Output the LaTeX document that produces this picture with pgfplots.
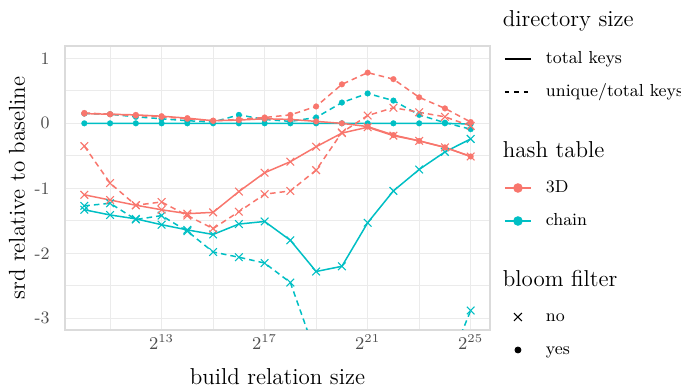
\documentclass[border=0pt]{standalone}
\usepackage{pgfplots}
\pgfplotsset{compat=1.18}
\definecolor{cr}{HTML}{F8766D}
\definecolor{cc}{HTML}{00BFC4}
\definecolor{bordergray}{RGB}{219,219,219}
\definecolor{gridgray}{RGB}{235,235,235}
\definecolor{ticktext}{RGB}{77,77,77}
\newcommand{\tfont}{\fontsize{11.5}{13}\selectfont}
\newcommand{\sfont}{\fontsize{8.7}{10}\selectfont}
\newcommand{\ent}[1]{\raisebox{-2.2pt}{\sfont #1}\rule[-8.25pt]{0pt}{16.5pt}}
\newcommand{\ttlA}[1]{\makebox[0pt][l]{\hspace{-22pt}\raisebox{-3.5pt}{\tfont #1}}\rule[-11.25pt]{0pt}{22.5pt}}
\newcommand{\ttlB}[1]{\makebox[0pt][l]{\hspace{-22pt}\raisebox{-9pt}{\tfont #1}}\rule[-15.75pt]{0pt}{31.5pt}}
\pgfplotsset{
 keyline/.style={legend image code/.code={\draw[##1] (0pt,0pt) -- (13pt,0pt);}},
 keylinemark/.style={legend image code/.code={\draw[##1] (0pt,0pt) -- (13pt,0pt); \draw[##1] plot[only marks] coordinates {(6.5pt,0pt)};}},
 keymark/.style={legend image code/.code={\path[draw=none,fill=none] (0pt,0pt) -- (13pt,0pt); \draw[##1] plot[only marks] coordinates {(6.5pt,0pt)};}},
 yesm/.style={mark=*, mark size=1.45pt, mark options={solid, line width=0.1pt}},
 nom/.style={mark=x, mark size=2.7pt, mark options={solid, line width=0.55pt}},
 dsh/.style={dash pattern=on 2.8pt off 2pt},
 red/.style={cr, line width=0.75pt},
 cyan/.style={cc, line width=0.75pt},
}
\begin{document}
\begin{tikzpicture}
\useasboundingbox (-32.5pt,-29.5pt) rectangle (308pt,165pt);
\begin{axis}[
 at={(0pt,0pt)}, anchor=south west,
 scale only axis, width=212.5pt, height=142pt,
 xmin=9.25, xmax=25.75, ymin=-3.18, ymax=1.19,
 xtick={13,17,21,25}, xticklabels={$2^{13}$,$2^{17}$,$2^{21}$,$2^{25}$},
 ytick={-3,-2,-1,0,1}, yticklabels={-3,-2,-1,0,1},
 minor xtick={11,15,19,23}, minor ytick={-2.5,-1.5,-0.5,0.5},
 grid=both,
 major grid style={gridgray, line width=0.7pt},
 minor grid style={gridgray, line width=0.4pt},
 major tick length=0pt, minor tick length=0pt,
 axis line style={bordergray, line width=0.9pt},
 tick label style={font=\sfont, text=ticktext},
 xticklabel style={inner sep=0pt, anchor=north, yshift=-2pt},
 yticklabel style={inner sep=0pt, anchor=east, xshift=-7.5pt},
 xlabel={build relation size}, ylabel={srd relative to baseline},
 label style={font=\tfont},
 xlabel style={at={(axis description cs:0.5,-0.165)}, anchor=center},
 ylabel style={at={(axis description cs:-0.113,0.5)}, anchor=center},
 legend cell align=left,
 legend style={at={(axis description cs:1.0334,1.1708)}, anchor=north west, draw=none, fill=none,
   inner sep=0pt, outer sep=0pt, row sep=0pt, column sep=7.1pt,
   nodes={inner sep=0pt, text depth=, font=\sfont}},
]
\addlegendimage{empty legend}\addlegendentry{\ttlA{directory size}}
\addlegendimage{keyline, black, line width=0.75pt}\addlegendentry{\ent{total keys}}
\addlegendimage{keyline, black, line width=0.75pt, dash pattern=on 2.25pt off 2.5pt}\addlegendentry{\ent{unique/total keys}}
\addlegendimage{empty legend}\addlegendentry{\ttlB{hash table}}
\addlegendimage{keylinemark, cr, line width=0.75pt, mark=*, mark size=2pt}\addlegendentry{\ent{3D}}
\addlegendimage{keylinemark, cc, line width=0.75pt, mark=*, mark size=2pt}\addlegendentry{\ent{chain}}
\addlegendimage{empty legend}\addlegendentry{\ttlB{bloom filter}}
\addlegendimage{keymark, black, mark=x, mark size=2.8pt, line width=0.55pt}\addlegendentry{\ent{no}}
\addlegendimage{keymark, black, mark=*, mark size=1.5pt}\addlegendentry{\ent{yes}}

% chain, total keys, bloom yes
\addplot[cyan, yesm, forget plot] coordinates {(10,0) (11,0) (12,0) (13,0) (14,0) (15,0) (16,0) (17,0) (18,0) (19,0) (20,0) (21,0) (22,0) (23,0) (24,0) (25,-0.01)};
% chain, unique/total, bloom yes
\addplot[cyan, dsh, yesm, forget plot] coordinates {(10,0.15) (11,0.14) (12,0.10) (13,0.07) (14,0.04) (15,0.02) (16,0.13) (17,0.06) (18,0.03) (19,0.09) (20,0.32) (21,0.46) (22,0.35) (23,0.13) (24,0.01) (25,-0.09)};
% chain, total keys, bloom no
\addplot[cyan, nom, forget plot] coordinates {(10,-1.33) (11,-1.41) (12,-1.47) (13,-1.56) (14,-1.64) (15,-1.71) (16,-1.55) (17,-1.51) (18,-1.80) (19,-2.28) (20,-2.20) (21,-1.53) (22,-1.04) (23,-0.71) (24,-0.44) (25,-0.24)};
% chain, unique/total, bloom no
\addplot[cyan, dsh, nom, forget plot] coordinates {(10,-1.27) (11,-1.23) (12,-1.48) (13,-1.42) (14,-1.66) (15,-1.98) (16,-2.06) (17,-2.15) (18,-2.45) (19,-3.57) (20,-3.9) (21,-4.1) (22,-4.2) (23,-4.2) (24,-3.86) (25,-2.88)};
% 3D, total keys, bloom yes
\addplot[red, yesm, forget plot] coordinates {(10,0.15) (11,0.14) (12,0.13) (13,0.11) (14,0.08) (15,0.04) (16,0.05) (17,0.07) (18,0.06) (19,0.03) (20,0.00) (21,-0.05) (22,-0.18) (23,-0.27) (24,-0.37) (25,-0.51)};
% 3D, unique/total, bloom yes
\addplot[red, dsh, yesm, forget plot] coordinates {(10,0.16) (11,0.14) (12,0.12) (13,0.10) (14,0.07) (15,0.04) (16,0.06) (17,0.09) (18,0.13) (19,0.26) (20,0.60) (21,0.78) (22,0.68) (23,0.40) (24,0.23) (25,0.02)};
% 3D, total keys, bloom no
\addplot[red, nom, forget plot] coordinates {(10,-1.10) (11,-1.18) (12,-1.26) (13,-1.33) (14,-1.39) (15,-1.37) (16,-1.05) (17,-0.76) (18,-0.59) (19,-0.36) (20,-0.15) (21,-0.06) (22,-0.19) (23,-0.27) (24,-0.37) (25,-0.51)};
% 3D, unique/total, bloom no
\addplot[red, dsh, nom, forget plot] coordinates {(10,-0.35) (11,-0.92) (12,-1.26) (13,-1.21) (14,-1.42) (15,-1.62) (16,-1.36) (17,-1.09) (18,-1.04) (19,-0.72) (20,-0.14) (21,0.12) (22,0.24) (23,0.17) (24,0.10) (25,-0.04)};
\end{axis}
\end{tikzpicture}
\end{document}
